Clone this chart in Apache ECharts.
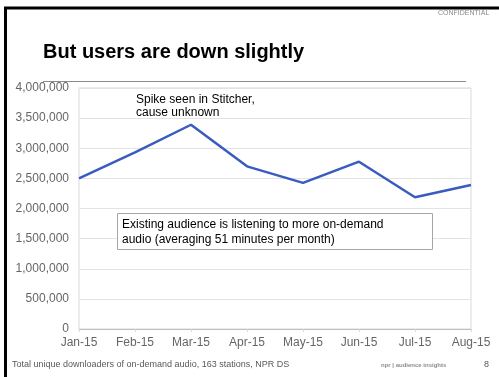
<!DOCTYPE html>
<html>
<head>
<meta charset="utf-8">
<script src="https://cdn.jsdelivr.net/npm/echarts@6/dist/echarts.min.js"></script>
<style>
html,body{margin:0;padding:0;background:#fff;}
#c{width:499px;height:377px;}
</style>
</head>
<body>
<div id="c"></div>
<script>
var months = ['Jan-15','Feb-15','Mar-15','Apr-15','May-15','Jun-15','Jul-15','Aug-15'];
var users = [2500000, 2930000, 3390000, 2700000, 2425000, 2777000, 2187000, 2390000];
var yTicks = [0, 500000, 1000000, 1500000, 2000000, 2500000, 3000000, 3500000, 4000000];
var titleText = 'But users are down slightly';
var noteSpike = 'Spike seen in Stitcher,\ncause unknown';
var noteBox = 'Existing audience is listening to more on-demand\naudio (averaging 51 minutes per month)';
var footerText = 'Total unique downloaders of on-demand audio, 163 stations, NPR DS';

var chart = echarts.init(document.getElementById('c'), null, {renderer:'canvas'});
var FONT = '"Liberation Sans", Arial, sans-serif';
chart.setOption({
  animation: false,
  backgroundColor: '#fff',
  textStyle: {fontFamily: FONT},
  grid: {left: 79, right: 28, top: 88, bottom: 48, show: true, borderColor: '#d9d9d9', borderWidth: 1, containLabel: false},
  xAxis: {
    type: 'category', data: months, boundaryGap: false,
    axisLine: {lineStyle: {color: '#bfbfbf'}},
    axisTick: {show: true, length: 3, lineStyle: {color: '#d9d9d9'}},
    axisLabel: {color: '#666666', fontSize: 12, margin: 8, fontFamily: FONT},
    splitLine: {show: false}
  },
  yAxis: {
    type: 'value', min: yTicks[0], max: yTicks[yTicks.length-1], interval: yTicks[1]-yTicks[0],
    axisLine: {show: false}, axisTick: {show: false},
    axisLabel: {color: '#666666', fontSize: 12, margin: 10, fontFamily: FONT,
      formatter: function(v){ return v.toLocaleString('en-US'); }},
    splitLine: {lineStyle: {color: '#e3e3e3'}}
  },
  series: [{
    type: 'line', data: users, symbol: 'none',
    lineStyle: {color: '#3a5bbf', width: 2.5}
  }],
  graphic: [
    {type: 'rect', shape: {x: 5.5, y: 8, width: 520, height: 400}, style: {fill: 'none', stroke: '#000', lineWidth: 3}, z: 100},
    {type: 'text', left: 438, top: 10, style: {text: 'CONFIDENTIAL', fill: '#8c8c8c', font: '7px ' + FONT}},
    {type: 'text', left: 43, top: 42, style: {text: titleText, fill: '#000', font: 'bold 20px ' + FONT}},
    {type: 'line', shape: {x1: 43, y1: 81.5, x2: 466, y2: 81.5}, style: {stroke: '#8c8c8c', lineWidth: 1}},
    {type: 'text', left: 136, top: 93, style: {text: noteSpike, fill: '#000', font: '12px ' + FONT, lineHeight: 13}},
    {type: 'rect', shape: {x: 117.5, y: 213.5, width: 315, height: 36}, style: {fill: '#fff', stroke: '#a6a6a6', lineWidth: 1}, z: 50},
    {type: 'text', left: 122, top: 217, z: 51, style: {text: noteBox, fill: '#000', font: '12px ' + FONT, lineHeight: 15}},
    {type: 'text', left: 12, top: 360, style: {text: footerText, fill: '#595959', font: '9px ' + FONT}},
    {type: 'text', left: 381, top: 362, style: {text: 'npr | audience insights', fill: '#8c8c8c', font: 'bold 6px ' + FONT}},
    {type: 'text', left: 484, top: 360, style: {text: '8', fill: '#595959', font: '9px ' + FONT}}
  ]
});
</script>
</body>
</html>
